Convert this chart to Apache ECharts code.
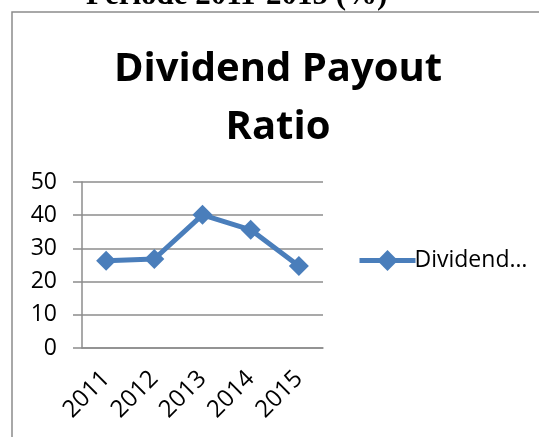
<!DOCTYPE html>
<html>
<head>
<meta charset="utf-8">
<script src="https://cdn.jsdelivr.net/npm/echarts@6/dist/echarts.min.js"></script>
<style>
  html, body { margin: 0; padding: 0; background: #fff; }
  #chart { width: 539px; height: 437px; }
</style>
</head>
<body>
<div id="chart"></div>
<script>
var years = ['2011', '2012', '2013', '2014', '2015'];
var payout = [26.3, 26.8, 40.1, 35.6, 24.7];
var yTicks = { min: 0, max: 50, interval: 10 };

(function () {
  var chart = echarts.init(document.getElementById('chart'));
  var grey = '#8c8c8c';
  var blue = '#4a7ebb';
  var font = '"Open Sans", Lato, sans-serif';
  chart.setOption({
    animation: false,
    backgroundColor: '#fff',
    graphic: [
      // frame of the embedded chart (only left and top edges are visible)
      { type: 'rect', shape: { x: 12, y: 12, width: 600, height: 500 },
        style: { fill: 'none', stroke: grey, lineWidth: 1.5 } },
      // caption cut off at the top
      { type: 'text', left: 86, top: -20,
        style: { text: 'Periode 2011-2015 (%)', font: 'bold 31px "Liberation Serif", serif', fill: '#000' } }
    ],
    title: {
      text: 'Dividend Payout\nRatio',
      left: 273, top: 36, textAlign: 'center',
      textStyle: { fontFamily: font, fontWeight: 'bold', fontSize: 40, lineHeight: 58, color: '#000' }
    },
    legend: {
      left: 352, top: 244,
      itemWidth: 56, itemHeight: 26, itemGap: 4,
      lineStyle: { width: 5 },
      formatter: function () { return 'Dividend…'; },
      textStyle: { fontFamily: font, fontSize: 23, color: '#000', padding: [0, 0, 0, -6] }
    },
    grid: { left: 82, top: 182, right: 216, bottom: 89 },
    xAxis: {
      type: 'category', data: years, boundaryGap: true,
      axisLine: { lineStyle: { color: grey, width: 1.5 } },
      axisTick: { length: 8, lineStyle: { color: grey, width: 1.5 } },
      axisLabel: { rotate: 45, margin: 27, fontFamily: font, fontSize: 24, color: '#000' }
    },
    yAxis: {
      type: 'value', min: yTicks.min, max: yTicks.max, interval: yTicks.interval,
      axisLine: { show: true, lineStyle: { color: grey, width: 1.5 } },
      axisTick: { show: true, length: 9, lineStyle: { color: grey, width: 1.5 } },
      splitLine: { lineStyle: { color: grey, width: 1.5 } },
      axisLabel: { margin: 25, fontFamily: font, fontSize: 23, color: '#000' }
    },
    series: [{
      name: 'Dividend Payout Ratio', type: 'line', data: payout,
      symbol: 'diamond', symbolSize: 20,
      lineStyle: { color: blue, width: 5 },
      itemStyle: { color: blue }
    }]
  });
})();
</script>
</body>
</html>
